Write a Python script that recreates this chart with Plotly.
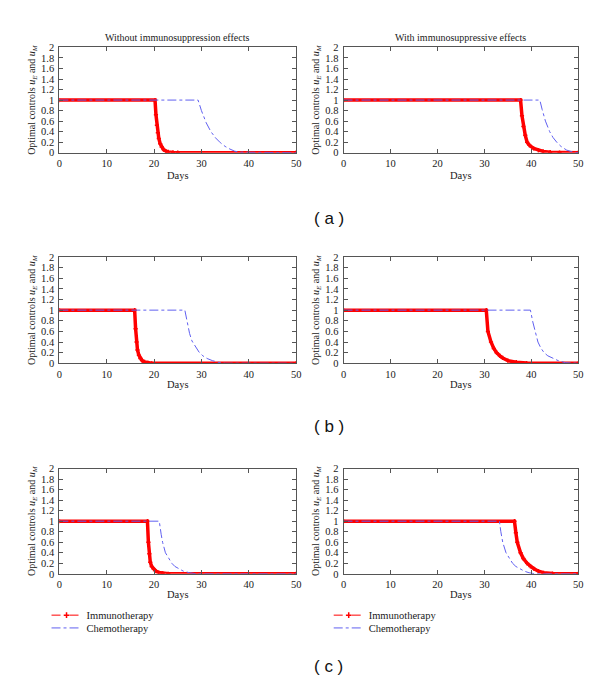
import plotly.graph_objects as go

# ---------------- data ----------------
# (a) without immunosuppression
a_left_immuno_t = [0, 20.2, 20.4, 20.6, 20.8, 21.0, 21.3, 21.6, 22.0, 22.5, 23.0, 24.0, 25.0, 50]
a_left_immuno_u = [1, 1, 0.72, 0.52, 0.38, 0.27, 0.17, 0.11, 0.06, 0.03, 0.015, 0.005, 0, 0]
a_left_chemo_t = [0, 29.3, 30, 31, 32, 33, 34, 35, 36, 37, 38, 50]
a_left_chemo_u = [1, 1, 0.8, 0.57, 0.4, 0.28, 0.19, 0.12, 0.07, 0.03, 0.01, 0]
# (a) with immunosuppression
a_right_immuno_t = [0, 37.7, 38.0, 38.3, 38.7, 39.1, 39.6, 40.5, 41.5, 42.5, 44, 46, 50]
a_right_immuno_u = [1, 1, 0.7, 0.5, 0.33, 0.2, 0.14, 0.08, 0.045, 0.025, 0.01, 0.003, 0]
a_right_chemo_t = [0, 41.8, 42.3, 43, 43.9, 44.6, 45.4, 46.3, 47.5, 48.9, 50]
a_right_chemo_u = [1, 1, 0.82, 0.6, 0.4, 0.29, 0.2, 0.12, 0.05, 0.01, 0]
# (b)
b_left_immuno_t = [0, 15.9, 16.1, 16.3, 16.5, 16.8, 17.1, 17.5, 18, 18.7, 19.5, 50]
b_left_immuno_u = [1, 1, 0.65, 0.4, 0.25, 0.15, 0.09, 0.05, 0.025, 0.01, 0, 0]
b_left_chemo_t = [0, 26.5, 27, 27.5, 28, 28.7, 29.5, 30.3, 31.2, 32.3, 33.5, 35, 50]
b_left_chemo_u = [1, 1, 0.78, 0.56, 0.42, 0.31, 0.21, 0.14, 0.09, 0.05, 0.02, 0, 0]
b_right_immuno_t = [0, 30.4, 30.75, 31.4, 32, 32.6, 33.3, 33.9, 35, 36.8, 39, 50]
b_right_immuno_u = [1, 1, 0.6, 0.4, 0.28, 0.2, 0.14, 0.1, 0.05, 0.02, 0.005, 0]
b_right_chemo_t = [0, 39.8, 40.3, 40.8, 41.4, 42, 42.7, 43.5, 44.5, 45.7, 47.3, 50]
b_right_chemo_u = [1, 1, 0.78, 0.6, 0.4, 0.29, 0.2, 0.14, 0.1, 0.05, 0.01, 0]
# (c)
c_left_immuno_t = [0, 18.6, 18.8, 19, 19.2, 19.5, 19.9, 20.4, 21, 21.8, 23, 50]
c_left_immuno_u = [1, 1, 0.6, 0.38, 0.22, 0.14, 0.09, 0.05, 0.025, 0.01, 0, 0]
c_left_chemo_t = [0, 21.1, 21.5, 21.8, 22.4, 23, 23.75, 24.4, 25.1, 26.2, 27.5, 29, 50]
c_left_chemo_u = [1, 1, 0.75, 0.6, 0.4, 0.3, 0.2, 0.14, 0.1, 0.05, 0.02, 0, 0]
c_right_immuno_t = [0, 36.4, 36.7, 37, 37.7, 38.3, 39.1, 39.8, 40.5, 41.5, 42.6, 44.5, 50]
c_right_immuno_u = [1, 1, 0.78, 0.6, 0.4, 0.29, 0.2, 0.14, 0.1, 0.05, 0.02, 0.005, 0]
c_right_chemo_t = [0, 33.2, 33.5, 33.9, 34.6, 35.3, 36, 36.7, 37.4, 38.5, 39.5, 40.8, 50]
c_right_chemo_u = [1, 1, 0.8, 0.6, 0.4, 0.29, 0.2, 0.14, 0.1, 0.05, 0.02, 0, 0]

panel_titles = ["Without immunosuppression effects", "With immunosuppressive effects"]
row_labels = ["( a )", "( b )", "( c )"]
x_ticks = [0, 10, 20, 30, 40, 50]
y_ticks = [0, 0.2, 0.4, 0.6, 0.8, 1, 1.2, 1.4, 1.6, 1.8, 2]
series_names = ["Immunotherapy", "Chemotherapy"]

panels = [
    (a_left_immuno_t, a_left_immuno_u, a_left_chemo_t, a_left_chemo_u),
    (a_right_immuno_t, a_right_immuno_u, a_right_chemo_t, a_right_chemo_u),
    (b_left_immuno_t, b_left_immuno_u, b_left_chemo_t, b_left_chemo_u),
    (b_right_immuno_t, b_right_immuno_u, b_right_chemo_t, b_right_chemo_u),
    (c_left_immuno_t, c_left_immuno_u, c_left_chemo_t, c_left_chemo_u),
    (c_right_immuno_t, c_right_immuno_u, c_right_chemo_t, c_right_chemo_u),
]

# ---------------- layout geometry ----------------
W, H = 600, 683
col_px = [(49, 289), (337, 575)]
row_px = [(35, 142), (248, 356), (463, 570)]
days_y_px = [165, 378, 591]
label_y_px = [209, 420, 664]

SERIF = '"Liberation Serif", "Times New Roman", serif'
SANS = '"Liberation Sans", Arial, sans-serif'
RED = "#ff0000"
BLUE = "#6060f0"
TXT = "#1a1a1a"

fig = go.Figure()
layout = dict(
    width=W, height=H, margin=dict(l=0, r=0, t=0, b=0),
    paper_bgcolor="white", plot_bgcolor="white", showlegend=True,
    font=dict(family=SERIF, size=10, color=TXT),
)
annotations = []

ytitle = "Optimal controls <i>u</i><sub><i>E</i></sub> and <i>u</i><sub><i>M</i></sub>"

for i, (it, iu, ct, cu) in enumerate(panels):
    r, c = divmod(i, 2)
    n = i + 1
    xa = "xaxis" if n == 1 else f"xaxis{n}"
    ya = "yaxis" if n == 1 else f"yaxis{n}"
    xr = "x" if n == 1 else f"x{n}"
    yr = "y" if n == 1 else f"y{n}"
    x0, x1 = col_px[c]
    y0, y1 = row_px[r]
    common = dict(showline=True, linecolor="#555", linewidth=1, mirror="ticks",
                  ticks="inside", ticklen=4, tickcolor="#555", showgrid=False,
                  zeroline=False, tickfont=dict(family=SERIF, size=10.5, color=TXT))
    layout[xa] = dict(domain=[x0 / W, x1 / W], anchor=yr, range=[0, 50],
                      tickvals=x_ticks, ticklabelstandoff=1, **common)
    layout[ya] = dict(domain=[1 - y1 / H, 1 - y0 / H], anchor=xr, range=[0, 2],
                      tickvals=y_ticks, ticklabelstandoff=2,
                      title=dict(text=ytitle, font=dict(family=SERIF, size=10, color=TXT),
                                 standoff=3),
                      **common)
    fig.add_trace(go.Scatter(x=it, y=iu, xaxis=xr, yaxis=yr, mode="lines+markers",
                             name=series_names[0], showlegend=False,
                             line=dict(color=RED, width=3.5),
                             marker=dict(symbol="cross-thin", size=3, color=RED,
                                         line=dict(color=RED, width=1.5))))
    fig.add_trace(go.Scatter(x=ct, y=cu, xaxis=xr, yaxis=yr, mode="lines",
                             name=series_names[1], showlegend=False,
                             line=dict(color=BLUE, width=1, dash="dashdot")))
    # Days label
    annotations.append(dict(text="Days", x=(x0 + x1) / 2 / W, y=1 - days_y_px[r] / H,
                            xref="paper", yref="paper", showarrow=False,
                            xanchor="center", yanchor="middle",
                            font=dict(family=SERIF, size=10.5, color=TXT)))
    if r == 0:
        annotations.append(dict(text=panel_titles[c], x=(x0 + x1) / 2 / W, y=1 - 25 / H,
                                xref="paper", yref="paper", showarrow=False,
                                xanchor="center", yanchor="middle",
                                font=dict(family=SERIF, size=10, color=TXT)))

# legend entries (legend-only traces carrying the series styles), one legend per entry
legend_names = ["legend", "legend2", "legend3", "legend4"]
legend_pos = [(36, 612), (322, 612), (36, 625), (322, 625)]
for k, leg in enumerate(legend_names):
    s = k // 2
    if s == 0:
        tr = go.Scatter(x=[None], y=[None], mode="lines+markers", name=series_names[0],
                        legend=leg, showlegend=True,
                        line=dict(color=RED, width=1, dash="dash"),
                        marker=dict(symbol="cross-thin", size=4, color=RED,
                                    line=dict(color=RED, width=1.5)))
    else:
        tr = go.Scatter(x=[None], y=[None], mode="lines", name=series_names[1],
                        legend=leg, showlegend=True,
                        line=dict(color=BLUE, width=1, dash="dashdot"))
    fig.add_trace(tr)
    px, py = legend_pos[k]
    layout[leg] = dict(x=px / W, y=1 - py / H, xanchor="left", yanchor="middle",
                       bgcolor="rgba(0,0,0,0)", itemwidth=30, tracegroupgap=0,
                       borderwidth=0,
                       font=dict(family=SERIF, size=10.5, color=TXT))

for r in range(3):
    annotations.append(dict(text=row_labels[r], x=322 / W, y=1 - label_y_px[r] / H,
                            xref="paper", yref="paper", showarrow=False,
                            xanchor="center", yanchor="middle",
                            font=dict(family=SANS, size=17, color="#111")))

layout["annotations"] = annotations
fig.update_layout(**layout)
fig.write_html("out.html")
